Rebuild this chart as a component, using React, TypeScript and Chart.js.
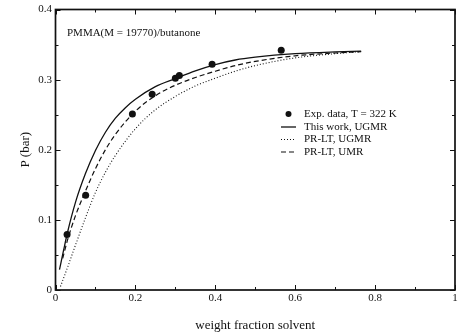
import { useEffect, useRef } from "react";
import { Chart, registerables } from "chart.js";

Chart.register(...registerables);

// ---- data ----
const expX = [0.029, 0.0755, 0.1925, 0.242, 0.3, 0.31, 0.392, 0.565];
const expY = [0.079, 0.135, 0.251, 0.279, 0.302, 0.306, 0.322, 0.342];

const thisWorkX = [0.01, 0.02, 0.03, 0.05, 0.075, 0.1, 0.125, 0.15, 0.175, 0.2, 0.25, 0.3, 0.35, 0.4, 0.45, 0.5, 0.6, 0.7, 0.765];
const thisWorkY = [0.029, 0.056, 0.082, 0.125, 0.166, 0.199, 0.225, 0.245, 0.26, 0.272, 0.29, 0.3015, 0.3125, 0.3215, 0.328, 0.332, 0.337, 0.3395, 0.3405];

const prUgmrX = [0.0125, 0.03, 0.05, 0.075, 0.1, 0.125, 0.15, 0.2, 0.25, 0.3, 0.35, 0.4, 0.45, 0.5, 0.6, 0.7, 0.765];
const prUgmrY = [0.005, 0.032, 0.064, 0.103, 0.139, 0.168, 0.192, 0.23, 0.257, 0.276, 0.291, 0.302, 0.312, 0.32, 0.331, 0.337, 0.34];

const prUmrX = [0.018, 0.03, 0.05, 0.075, 0.1, 0.125, 0.15, 0.2, 0.25, 0.3, 0.35, 0.4, 0.45, 0.5, 0.6, 0.7, 0.765];
const prUmrY = [0.045, 0.071, 0.106, 0.141, 0.173, 0.2, 0.222, 0.255, 0.277, 0.292, 0.303, 0.312, 0.32, 0.326, 0.334, 0.338, 0.34];

const xTicks = [0, 0.2, 0.4, 0.6, 0.8, 1];
const yTicks = [0, 0.1, 0.2, 0.3, 0.4];
const xMinorStep = 0.1;
const yMinorStep = 0.05;

const seriesLabels = ["Exp. data, T = 322 K", "This work, UGMR", "PR-LT, UGMR", "PR-LT, UMR"];
const annotationText = "PMMA(M = 19770)/butanone";
const xTitle = "weight fraction solvent";
const yTitle = "P (bar)";

const FONT = "'Liberation Serif', 'DejaVu Serif', serif";
const INK = "#111";

const toPts = (xs: number[], ys: number[]) => xs.map((x, i) => ({ x, y: ys[i] }));

const framePlugin = {
  id: "framePlugin",
  afterDraw(chart: any) {
    const { ctx, chartArea: a, scales } = chart;
    const xs = scales.x;
    const ys = scales.y;
    ctx.save();
    ctx.strokeStyle = INK;
    // ticks
    ctx.lineWidth = 1;
    const major = 5;
    const minor = 3;
    for (let i = 0; i <= Math.round(1 / xMinorStep); i++) {
      const v = i * xMinorStep;
      const isMajor = i % 2 === 0;
      const L = isMajor ? major : minor;
      const px = Math.round(xs.getPixelForValue(v)) + 0.5;
      ctx.beginPath();
      ctx.moveTo(px, a.bottom);
      ctx.lineTo(px, a.bottom - L);
      ctx.moveTo(px, a.top);
      ctx.lineTo(px, a.top + L);
      ctx.stroke();
    }
    for (let i = 0; i <= Math.round(0.4 / yMinorStep); i++) {
      const v = i * yMinorStep;
      const isMajor = i % 2 === 0;
      const L = isMajor ? major : minor;
      const py = Math.round(ys.getPixelForValue(v)) + 0.5;
      ctx.beginPath();
      ctx.moveTo(a.left, py);
      ctx.lineTo(a.left + L, py);
      ctx.moveTo(a.right, py);
      ctx.lineTo(a.right - L, py);
      ctx.stroke();
    }
    // frame
    ctx.lineWidth = 1.7;
    ctx.strokeRect(a.left, a.top, a.right - a.left, a.bottom - a.top);

    // annotation
    ctx.fillStyle = INK;
    ctx.font = `11px ${FONT}`;
    ctx.textAlign = "left";
    ctx.textBaseline = "middle";
    ctx.fillText(annotationText, a.left + 11.5, a.top + 24);

    // legend
    const ds = chart.data.datasets;
    const lx0 = 281;
    const lx1 = 296;
    const tx = 304;
    const rows = [114, 127, 139.5, 152];
    ds.forEach((d: any, i: number) => {
      const y = rows[i];
      if (d.showLine === false) {
        ctx.beginPath();
        ctx.fillStyle = INK;
        ctx.arc((lx0 + lx1) / 2, y, 3, 0, Math.PI * 2);
        ctx.fill();
      } else {
        ctx.beginPath();
        ctx.lineWidth = d.borderWidth;
        ctx.setLineDash(d.borderDash || []);
        ctx.moveTo(lx0, y);
        ctx.lineTo(lx1, y);
        ctx.stroke();
        ctx.setLineDash([]);
      }
      ctx.fillStyle = INK;
      ctx.fillText(d.label, tx, y);
    });
    ctx.restore();
  },
};

export default function App() {
  const ref = useRef<HTMLCanvasElement | null>(null);
  useEffect(() => {
    if (!ref.current) return;
    const chart = new Chart(ref.current, {
      type: "scatter",
      data: {
        datasets: [
          {
            label: seriesLabels[0],
            data: toPts(expX, expY),
            showLine: false,
            pointRadius: 3.5,
            pointBackgroundColor: INK,
            pointBorderWidth: 0,
            borderColor: INK,
            order: 0,
          },
          {
            label: seriesLabels[1],
            data: toPts(thisWorkX, thisWorkY),
            showLine: true,
            pointRadius: 0,
            borderColor: INK,
            borderWidth: 1.3,
            cubicInterpolationMode: "monotone",
            order: 1,
          },
          {
            label: seriesLabels[2],
            data: toPts(prUgmrX, prUgmrY),
            showLine: true,
            pointRadius: 0,
            borderColor: INK,
            borderWidth: 1.1,
            borderDash: [1, 2],
            cubicInterpolationMode: "monotone",
            order: 2,
          },
          {
            label: seriesLabels[3],
            data: toPts(prUmrX, prUmrY),
            showLine: true,
            pointRadius: 0,
            borderColor: INK,
            borderWidth: 1.2,
            borderDash: [5, 3],
            cubicInterpolationMode: "monotone",
            order: 3,
          },
        ],
      } as any,
      options: {
        animation: false,
        responsive: false,
        maintainAspectRatio: false,
        layout: { padding: { left: 0, top: 9.5, right: 1.5, bottom: 0 } },
        plugins: { legend: { display: false }, tooltip: { enabled: false }, title: { display: false } },
        scales: {
          x: {
            type: "linear",
            min: 0,
            max: 1,
            grid: { display: false, drawTicks: false },
            border: { display: false },
            afterBuildTicks: (s: any) => {
              s.ticks = xTicks.map((v) => ({ value: v }));
            },
            afterFit: (s: any) => {
              s.height = 46;
              s.paddingLeft = 0;
              s.paddingRight = 0;
            },
            ticks: {
              color: INK,
              font: { family: FONT, size: 11 },
              padding: 2,
              maxRotation: 0,
              autoSkip: false,
              callback: (v: any) => String(Number(v)),
            },
            title: {
              display: true,
              text: xTitle,
              color: INK,
              font: { family: FONT, size: 13 },
              padding: { top: 0, bottom: 3 },
            },
          },
          y: {
            type: "linear",
            min: 0,
            max: 0.4,
            grid: { display: false, drawTicks: false },
            border: { display: false },
            afterBuildTicks: (s: any) => {
              s.ticks = yTicks.map((v) => ({ value: v }));
            },
            afterFit: (s: any) => {
              s.width = 55.5;
              s.paddingTop = 0;
              s.paddingBottom = 0;
            },
            ticks: {
              color: INK,
              font: { family: FONT, size: 11 },
              padding: 3.5,
              autoSkip: false,
              callback: (v: any) => String(Number(Number(v).toFixed(2))),
            },
            title: {
              display: true,
              text: yTitle,
              color: INK,
              font: { family: FONT, size: 13 },
              padding: { top: 18, bottom: 0 },
            },
          },
        },
      } as any,
      plugins: [framePlugin],
    });
    return () => chart.destroy();
  }, []);
  return (
    <div style={{ position: "fixed", left: 0, top: 0, width: 459, height: 336, background: "#fff" }}>
      <canvas ref={ref} width={459} height={336} style={{ width: 459, height: 336, display: "block" }} />
    </div>
  );
}
